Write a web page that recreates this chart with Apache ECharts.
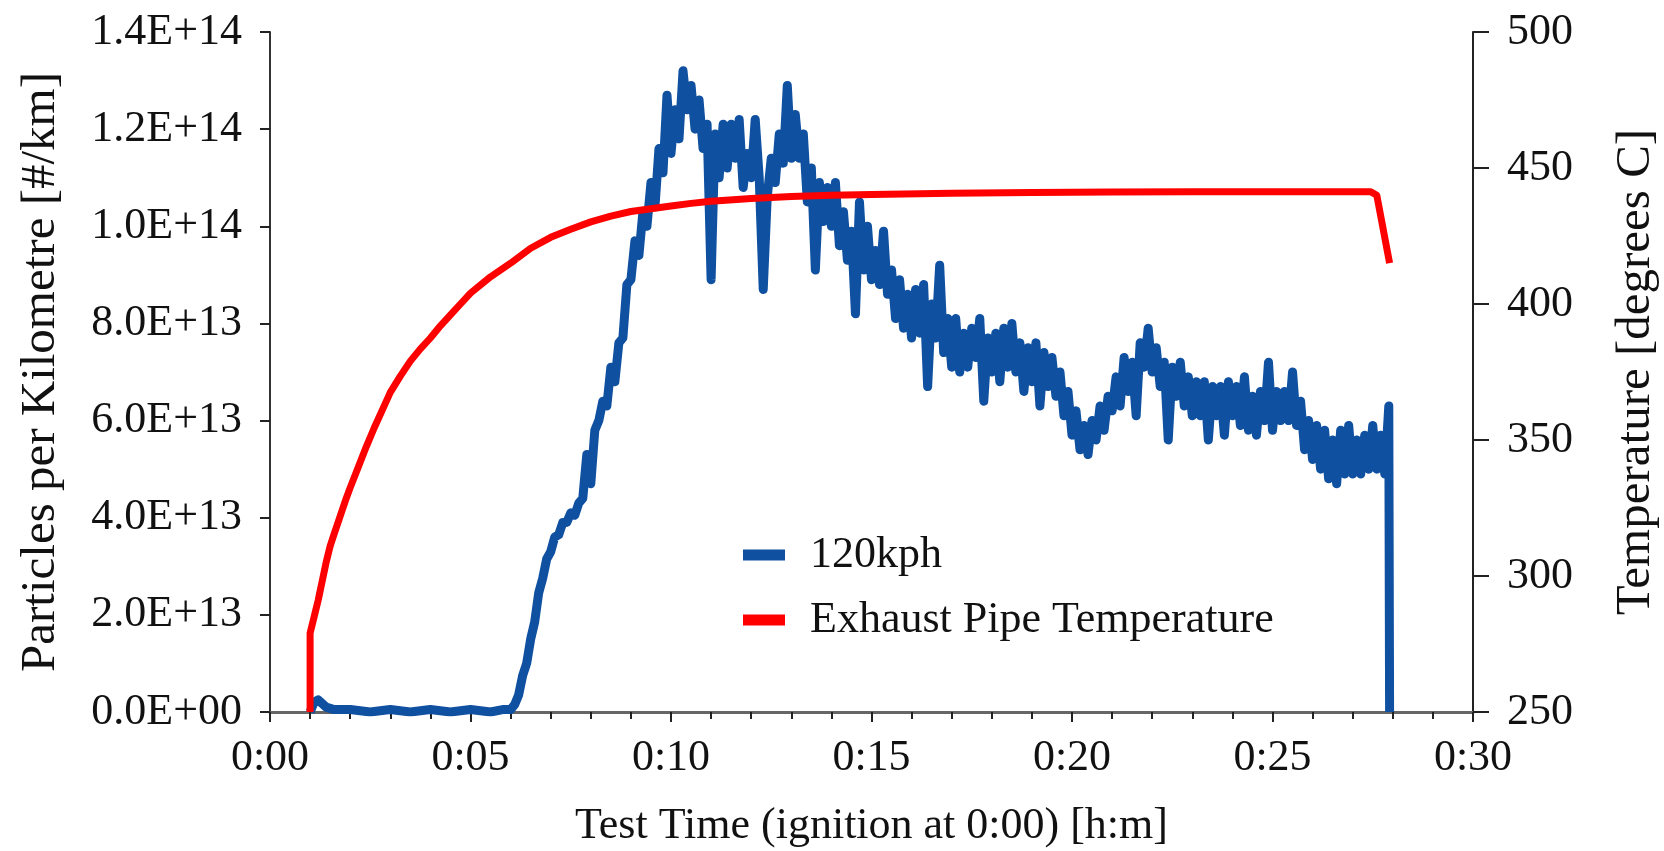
<!DOCTYPE html>
<html><head><meta charset="utf-8">
<script src="https://cdn.jsdelivr.net/npm/echarts@6/dist/echarts.min.js"></script>
<style>html,body{margin:0;padding:0;background:#fff}#c{width:1664px;height:851px}</style>
</head><body><div id="c"></div>
<script>
// Tick labels
const xTickLabels = ['0:00','0:05','0:10','0:15','0:20','0:25','0:30'];
const leftTickLabels = ['0.0E+00','2.0E+13','4.0E+13','6.0E+13','8.0E+13','1.0E+14','1.2E+14','1.4E+14'];
const rightTickLabels = ['250','300','350','400','450','500'];
const seriesNames = ['120kph','Exhaust Pipe Temperature'];

// 120kph particle count, time in minutes, values in units of 1E+13 #/km
const blueTime = [
 1.0,1.1,1.2,1.4,1.6,2.0,2.5,3.0,3.5,4.0,4.5,5.0,5.5,5.8,
 6.0,6.1,6.2,6.3,6.4,6.5,6.6,6.7,6.8,6.9,
 7.0,7.1,7.2,7.3,7.4,7.5,7.6,7.7,7.8,7.9,
 8.0,8.1,8.2,8.3,8.4,8.5,8.6,8.7,8.8,8.9,
 9.0,9.1,9.2,9.3,9.4,9.5,9.6,9.7,9.8,9.9,
 10.0,10.1,10.2,10.3,10.4,10.5,10.6,10.7,10.8,10.9,
 11.0,11.1,11.2,11.3,11.4,11.5,11.6,11.7,11.8,11.9,
 12.0,12.1,12.2,12.3,12.4,12.5,12.6,12.7,12.8,12.9,
 13.0,13.1,13.2,13.3,13.4,13.5,13.6,13.7,13.8,13.9,
 14.0,14.1,14.2,14.3,14.4,14.5,14.6,14.7,14.8,14.9,
 15.0,15.1,15.2,15.3,15.4,15.5,15.6,15.7,15.8,15.9,
 16.0,16.1,16.2,16.3,16.4,16.5,16.6,16.7,16.8,16.9,
 17.0,17.1,17.2,17.3,17.4,17.5,17.6,17.7,17.8,17.9,
 18.0,18.1,18.2,18.3,18.4,18.5,18.6,18.7,18.8,18.9,
 19.0,19.1,19.2,19.3,19.4,19.5,19.6,19.7,19.8,19.9,
 20.0,20.1,20.2,20.3,20.4,20.5,20.6,20.7,20.8,20.9,
 21.0,21.1,21.2,21.3,21.4,21.5,21.6,21.7,21.8,21.9,
 22.0,22.1,22.2,22.3,22.4,22.5,22.6,22.7,22.8,22.9,
 23.0,23.1,23.2,23.3,23.4,23.5,23.6,23.7,23.8,23.9,
 24.0,24.1,24.2,24.3,24.4,24.5,24.6,24.7,24.8,24.9,
 25.0,25.1,25.2,25.3,25.4,25.5,25.6,25.7,25.8,25.9,
 26.0,26.1,26.2,26.3,26.4,26.5,26.6,26.7,26.8,26.9,
 27.0,27.1,27.2,27.3,27.4,27.5,27.6,27.7,27.8,27.9,
 27.92
];
const blueValue = [
 0.0,0.2,0.25,0.1,0.05,0.05,0.0,0.05,0.0,0.05,0.0,0.05,0.0,0.05,
 0.05,0.15,0.35,0.75,1.0,1.5,1.85,2.45,2.75,3.15,
 3.3,3.6,3.65,3.9,3.9,4.1,4.05,4.3,4.4,5.3,
 4.7,5.8,6.0,6.4,6.3,7.1,6.8,7.6,7.7,8.8,
 8.9,9.7,9.4,10.3,10.0,10.9,10.4,11.6,11.1,12.7,
 11.5,12.4,11.8,13.2,12.4,12.9,12.0,12.6,11.6,12.1,
 8.9,11.9,11.0,12.1,11.2,12.1,11.4,12.2,10.8,11.5,
 11.0,12.2,11.0,8.7,10.6,11.4,10.9,11.9,11.3,12.9,
 11.4,12.3,11.4,11.9,10.5,11.2,9.1,10.9,10.1,10.8,
 10.0,10.9,9.6,10.3,9.3,9.9,8.2,10.5,9.1,10.0,
 8.9,9.5,8.8,9.9,8.6,9.1,8.1,8.9,7.9,8.6,
 7.7,8.7,7.8,8.8,6.7,8.4,7.7,9.2,7.4,8.1,
 7.1,8.1,7.0,7.8,7.1,7.9,7.3,8.1,6.4,7.7,
 7.0,7.8,6.8,7.9,7.1,8.0,7.0,7.6,6.6,7.5,
 6.8,7.6,6.3,7.4,6.7,7.3,6.5,7.0,6.1,6.6,
 5.7,6.2,5.4,5.9,5.3,6.0,5.6,6.3,5.8,6.5,
 6.2,6.9,6.3,7.3,6.6,7.2,6.1,7.6,7.1,7.9,
 7.0,7.5,6.7,7.2,5.6,7.1,6.5,7.2,6.3,6.9,
 6.1,6.8,6.1,6.8,5.6,6.7,6.1,6.7,5.7,6.8,
 6.1,6.7,5.9,6.9,5.8,6.5,5.7,6.6,6.0,7.2,
 5.8,6.6,6.0,6.6,6.0,7.0,5.9,6.4,5.4,6.0,
 5.2,5.9,5.0,5.8,4.8,5.6,4.7,5.8,4.9,5.9,
 4.9,5.6,4.9,5.7,5.0,5.9,5.0,5.7,4.9,6.3,
 0.0
];

// Exhaust pipe temperature, time in minutes, degrees C
const tempTime = [1.0,1.0,1.1,1.2,1.3,1.4,1.5,1.6,1.75,1.9,2.0,2.2,2.4,2.6,2.8,3.0,3.25,3.5,3.75,4.0,4.25,4.5,4.75,5.0,5.5,6.0,6.5,7.0,7.5,8.0,8.5,9.0,9.5,10.0,10.5,11.0,12.0,13.0,14.0,15.0,17.0,19.0,21.0,23.0,25.0,27.45,27.6,27.92];
const tempValue = [250,279,285,291,298,305,311,315.5,322,328.5,332.5,340,347.5,354.5,361,367.5,373.5,379,383.5,387.5,392,396,400,404,410,415,420.5,424.5,427.5,430.2,432.3,434,435,436,437,437.8,438.8,439.5,440,440.3,440.7,441,441.2,441.3,441.3,441.3,440,415];

const FONT = '"Liberation Serif", "DejaVu Serif", serif';
const BLUE = '#0f50a0';
const RED = '#ff0000';
const TXT = '#111';

const chart = echarts.init(document.getElementById('c'));
chart.setOption({
  animation: false,
  backgroundColor: '#fff',
  grid: {left: 270, right: 191, top: 32, bottom: 139, containLabel: false, outerBoundsMode: 'none'},
  legend: {
    left: 738, top: 528, orient: 'vertical', icon: 'rect',
    itemWidth: 42, itemHeight: 11, itemGap: 21,
    textStyle: {fontFamily: FONT, fontSize: 44, color: TXT, padding: [0, 0, 0, 20], lineHeight: 44},
    data: seriesNames
  },
  xAxis: {
    type: 'value', min: 0, max: 30, interval: 5,
    name: 'Test Time (ignition at 0:00) [h:m]', nameLocation: 'middle', nameGap: 92,
    nameTextStyle: {fontFamily: FONT, fontSize: 44, color: TXT},
    axisLine: {onZero: false, lineStyle: {color: '#666', width: 3}},
    axisTick: {length: 10, lineStyle: {color: '#222', width: 2}},
    minorTick: {show: true, splitNumber: 5, length: 7, lineStyle: {color: '#222', width: 2}},
    axisLabel: {margin: 24, fontFamily: FONT, fontSize: 44, color: TXT,
      formatter: v => xTickLabels[Math.round(v / 5)]},
    splitLine: {show: false}
  },
  yAxis: [
    {
      type: 'value', min: 0, max: 14, interval: 2, position: 'left',
      name: 'Particles per Kilometre [#/km]', nameLocation: 'middle', nameGap: 204,
      nameTextStyle: {fontFamily: FONT, fontSize: 49, color: TXT},
      axisLine: {show: true, lineStyle: {color: '#333', width: 2}},
      axisTick: {show: true, length: 10, lineStyle: {color: '#222', width: 2}},
      axisLabel: {margin: 28, fontFamily: FONT, fontSize: 44, color: TXT,
        formatter: v => leftTickLabels[Math.round(v / 2)]},
      splitLine: {show: false}
    },
    {
      type: 'value', min: 250, max: 500, interval: 50, position: 'right',
      name: 'Temperature [degrees C]', nameLocation: 'middle', nameGap: 139,
      nameTextStyle: {fontFamily: FONT, fontSize: 49, color: TXT},
      axisLine: {show: true, lineStyle: {color: '#222', width: 2}},
      axisTick: {show: true, length: 16, lineStyle: {color: '#222', width: 2}},
      axisLabel: {margin: 34, fontFamily: FONT, fontSize: 44, color: TXT,
        formatter: v => rightTickLabels[Math.round((v - 250) / 50)]},
      splitLine: {show: false}
    }
  ],
  series: [
    {
      name: seriesNames[0], type: 'line', yAxisIndex: 0, symbol: 'none', z: 3,
      data: blueTime.map((t, i) => [t, blueValue[i]]),
      lineStyle: {color: BLUE, width: 9, join: 'round'}, itemStyle: {color: BLUE}
    },
    {
      name: seriesNames[1], type: 'line', yAxisIndex: 1, symbol: 'none', z: 4,
      data: tempTime.map((t, i) => [t, tempValue[i]]),
      lineStyle: {color: RED, width: 7, join: 'round'}, itemStyle: {color: RED}
    }
  ]
});
</script>
</body></html>
